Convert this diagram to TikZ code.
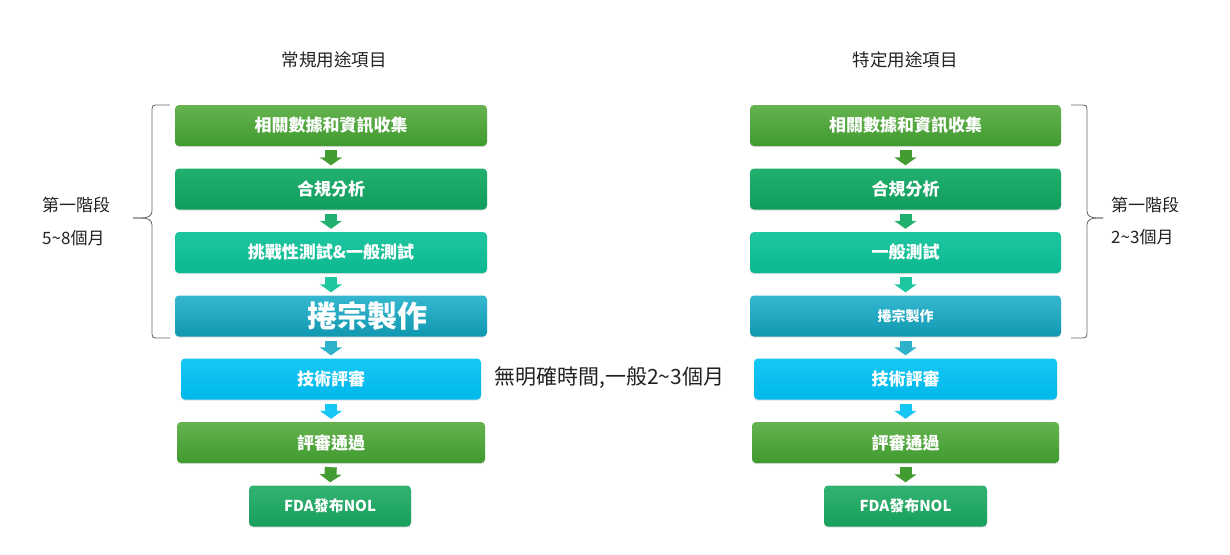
\documentclass[tikz,border=0pt]{standalone}
\usepackage{fontspec}
\setmainfont{Noto Sans CJK TC}
\usetikzlibrary{arrows.meta,shadows}
\definecolor{gAt}{HTML}{66B34F}\definecolor{gAb}{HTML}{3F9A2F}
\definecolor{gBt}{HTML}{22B06F}\definecolor{gBb}{HTML}{0F9C5C}
\definecolor{gCt}{HTML}{1EC6A0}\definecolor{gCb}{HTML}{0CB890}
\definecolor{gDt}{HTML}{36B7D0}\definecolor{gDb}{HTML}{1098B0}
\definecolor{gEt}{HTML}{16C7F5}\definecolor{gEb}{HTML}{00B8EA}
\definecolor{gFt}{HTML}{33B272}\definecolor{gFb}{HTML}{179F5C}
\definecolor{txt}{HTML}{222222}
\definecolor{brc}{HTML}{666666}
\tikzset{
  x=1pt,y=-1pt,
  box/.style={rounded corners=4pt, minimum height=41pt, text=white, font=\bfseries\fontsize{17}{20}\selectfont,
    inner sep=2pt, drop shadow={shadow xshift=0pt,shadow yshift=-1.2pt,opacity=0.25}},
  boxA/.style={box, top color=gAt, bottom color=gAb},
  boxB/.style={box, top color=gBt, bottom color=gBb},
  boxC/.style={box, top color=gCt, bottom color=gCb},
  boxD/.style={box, top color=gDt, bottom color=gDb},
  boxE/.style={box, top color=gEt, bottom color=gEb},
  boxF/.style={box, top color=gFt, bottom color=gFb},
  flow/.style={line width=12pt, draw=#1, -{Triangle[width=22pt,length=8pt]}, shorten <=4pt, shorten >=3pt},
  label/.style={text=txt, font=\fontsize{17}{20}\selectfont, inner sep=0pt},
  bracket/.style={draw=brc, line width=0.8pt},
}
\begin{document}
\begin{tikzpicture}
\useasboundingbox (0,0) rectangle (1230,554);
\fill[white] (0,0) rectangle (1230,554);
% titles
\node[label, font=\fontsize{17.5}{20}\selectfont] (tL) at (334,60) {常規用途項目};
\node[label, font=\fontsize{17.5}{20}\selectfont] (tR) at (905,60) {特定用途項目};
% left column
\node[boxA, minimum width=312pt] (L1) at (331,125.5) {相關數據和資訊收集};
\node[boxB, minimum width=312pt] (L2) at (331,189) {合規分析};
\node[boxC, minimum width=312pt] (L3) at (331,252.5) {挑戰性測試\&一般測試};
\node[boxD, minimum width=312pt, font=\bfseries\fontsize{30}{32}\selectfont] (L4) at (331,316) {\hspace*{72pt}捲宗製作};
\node[boxE, minimum width=300pt] (L5) at (331,379) {技術評審};
\node[boxA, minimum width=308pt] (L6) at (331,442.5) {評審通過};
\node[boxF, minimum width=162pt, font=\bfseries\fontsize{15}{18}\selectfont] (L7) at (330,506) {FDA發布NOL};
\draw[flow=gAb!90!gAt] (L1.south) -- (L2.north);
\draw[flow=gBt] (L2.south) -- (L3.north);
\draw[flow=gCt] (L3.south) -- (L4.north);
\draw[flow=gDt!80!gDb] (L4.south) -- (L5.north);
\draw[flow=gEt] (L5.south) -- (L6.north);
\draw[flow=gAb!90!gAt] (L6.south) -- (L7.north);
% right column
\node[boxA, minimum width=311pt] (R1) at (905.5,125.5) {相關數據和資訊收集};
\node[boxB, minimum width=311pt] (R2) at (905.5,189) {合規分析};
\node[boxC, minimum width=311pt] (R3) at (905.5,252.5) {一般測試};
\node[boxD, minimum width=311pt, font=\bfseries\fontsize{14}{16}\selectfont] (R4) at (905.5,316) {捲宗製作};
\node[boxE, minimum width=303pt] (R5) at (905.5,379) {技術評審};
\node[boxA, minimum width=307pt] (R6) at (905.5,442.5) {評審通過};
\node[boxF, minimum width=163pt, font=\bfseries\fontsize{15}{18}\selectfont] (R7) at (905.5,506) {FDA發布NOL};
\draw[flow=gAb!90!gAt] (R1.south) -- (R2.north);
\draw[flow=gBt] (R2.south) -- (R3.north);
\draw[flow=gCt] (R3.south) -- (R4.north);
\draw[flow=gDt!80!gDb] (R4.south) -- (R5.north);
\draw[flow=gEt] (R5.south) -- (R6.north);
\draw[flow=gAb!90!gAt] (R6.south) -- (R7.north);
% braces
\draw[bracket] (170,105) -- (156,105) .. controls (153,105) and (152,106) .. (152,109) -- (152,211)
  .. controls (152,216) and (148,218) .. (141,218) -- (133,218);
\draw[bracket] (133,218) -- (141,218) .. controls (148,218) and (152,220) .. (152,225) -- (152,334)
  .. controls (152,337) and (153,338) .. (156,338) -- (170,338);
\draw[bracket] (1071,105) -- (1083,105) .. controls (1086,105) and (1087,106) .. (1087,109) -- (1087,211)
  .. controls (1087,216) and (1091,218) .. (1097,218) -- (1103,218);
\draw[bracket] (1103,218) -- (1097,218) .. controls (1091,218) and (1087,220) .. (1087,225) -- (1087,334)
  .. controls (1087,337) and (1086,338) .. (1083,338) -- (1071,338);
% side labels
\node[label, anchor=west] (sL1) at (42,205) {第一階段};
\node[label, anchor=west] (sL2) at (42,238) {5\textasciitilde8個月};
\node[label, anchor=west] (sR1) at (1111,205) {第一階段};
\node[label, anchor=west] (sR2) at (1111,237) {2\textasciitilde3個月};
\node[label, anchor=west, font=\fontsize{21}{24}\selectfont] (note) at (494,378) {無明確時間,一般2\textasciitilde3個月};
\end{tikzpicture}
\end{document}
